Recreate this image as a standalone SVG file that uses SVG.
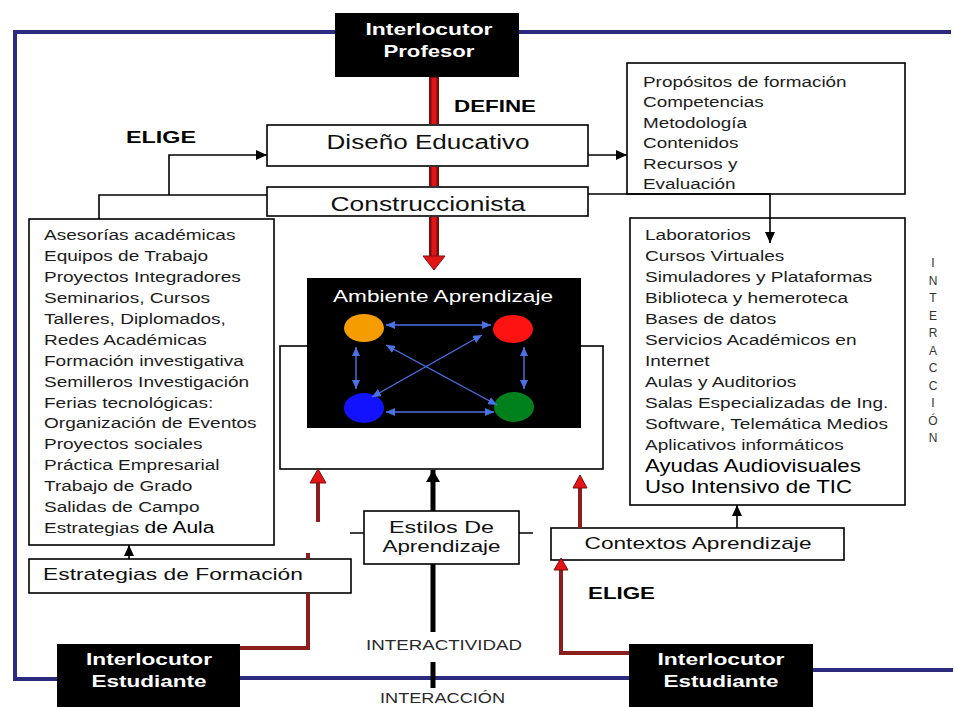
<svg xmlns="http://www.w3.org/2000/svg" width="955" height="707" viewBox="0 0 955 707">
<style>
text{font-family:"Liberation Sans",Arial,sans-serif}
.box{fill:#fff;stroke:#000;stroke-width:1.6}
.blk{fill:#000}
.wb{fill:#fff;font-weight:bold;font-size:17px;text-anchor:middle}
.lst{font-size:15px;fill:#1c1c1c}
.big{font-size:17.5px;fill:#000}
.ttl{font-size:20px;fill:#111;text-anchor:middle}
.mid{font-size:17px;fill:#111}
.lab{font-weight:bold;font-size:17px;fill:#000}
.cap{font-size:14px;fill:#2a2a2a}
.vt{font-size:12px;fill:#333;text-anchor:middle}
.frame{fill:none;stroke:#2b2b80;stroke-width:4}
.ln{fill:none;stroke:#000;stroke-width:1.6}
.thick{fill:none;stroke:#000;stroke-width:5}
.bl{fill:none;stroke:#4a72e6;stroke-width:1.4}
.mr{fill:none;stroke:#8b1f1f;stroke-width:4}
.rd{fill:none;stroke:#7a0e0e;stroke-width:10}
.rc{fill:none;stroke:#e01515;stroke-width:5}
.rh{fill:#e41515;stroke:#7a0e0e;stroke-width:1}
</style>
<defs>
<marker id="ab" markerUnits="userSpaceOnUse" markerWidth="11" markerHeight="10" refX="11" refY="5" orient="auto"><path d="M0,0 L11,5 L0,10 z" fill="#000"/></marker>
<marker id="abig" markerUnits="userSpaceOnUse" markerWidth="12" markerHeight="14" refX="12" refY="7" orient="auto"><path d="M0,0 L12,7 L0,14 z" fill="#000"/></marker>
<marker id="ba" markerUnits="userSpaceOnUse" markerWidth="9" markerHeight="8" refX="9" refY="4" orient="auto-start-reverse"><path d="M0,0 L9,4 L0,8 z" fill="#4a72e6"/></marker>
</defs>
<rect width="955" height="707" fill="#fff"/>

<g id="interlocutor-profesor">
<rect class="blk" x="335" y="13" width="184" height="64"/>
<text class="wb" x="429" y="35" textLength="127" lengthAdjust="spacingAndGlyphs">Interlocutor</text>
<text class="wb" x="429" y="57" textLength="91" lengthAdjust="spacingAndGlyphs">Profesor</text>
</g>

<g id="diseno-educativo">
<rect class="box" x="267" y="125" width="321" height="41"/>
<text class="ttl" x="428" y="149" textLength="203" lengthAdjust="spacingAndGlyphs">Diseño Educativo</text>
</g>

<g id="construccionista">
<rect class="box" x="267" y="187" width="321" height="29"/>
<text class="ttl" x="428" y="211" textLength="195" lengthAdjust="spacingAndGlyphs">Construccionista</text>
</g>

<g id="propositos">
<rect class="box" x="627" y="63" width="278" height="131"/>
<g transform="translate(643 0) scale(1.26 1)">
<text class="lst" x="0" y="87">Propósitos de formación</text>
<text class="lst" x="0" y="107.5">Competencias</text>
<text class="lst" x="0" y="128">Metodología</text>
<text class="lst" x="0" y="148.5">Contenidos</text>
<text class="lst" x="0" y="169">Recursos  y</text>
<text class="lst" x="0" y="189.5">Evaluación</text>
</g>
</g>

<g id="estrategias-lista">
<rect class="box" x="29" y="219" width="245" height="326"/>
<g transform="translate(44 0) scale(1.27 1)">
<text class="lst" x="0" y="240">Asesorías académicas</text>
<text class="lst" x="0" y="261">Equipos de Trabajo</text>
<text class="lst" x="0" y="282">Proyectos Integradores</text>
<text class="lst" x="0" y="303">Seminarios, Cursos</text>
<text class="lst" x="0" y="324">Talleres, Diplomados,</text>
<text class="lst" x="0" y="345">Redes Académicas</text>
<text class="lst" x="0" y="366">Formación investigativa</text>
<text class="lst" x="0" y="387">Semilleros Investigación</text>
<text class="lst" x="0" y="408">Ferias tecnológicas:</text>
<text class="lst" x="0" y="428.5">Organización de Eventos</text>
<text class="lst" x="0" y="449.5">Proyectos sociales</text>
<text class="lst" x="0" y="470.5">Práctica Empresarial</text>
<text class="lst" x="0" y="491.5">Trabajo de Grado</text>
<text class="lst" x="0" y="512">Salidas de Campo</text>
<text class="lst" x="0" y="533">Estrategias <tspan font-size="16.5" fill="#000">de Aula</tspan></text>
</g>
</g>

<g id="recursos-lista">
<rect class="box" x="630" y="218" width="275" height="287"/>
<g transform="translate(645 0) scale(1.27 1)">
<text class="lst" x="0" y="240">Laboratorios</text>
<text class="lst" x="0" y="261">Cursos Virtuales</text>
<text class="lst" x="0" y="282.5">Simuladores y Plataformas</text>
<text class="lst" x="0" y="303.5">Biblioteca y hemeroteca</text>
<text class="lst" x="0" y="324.5">Bases de datos</text>
<text class="lst" x="0" y="345.5">Servicios Académicos en</text>
<text class="lst" x="0" y="366.5">Internet</text>
<text class="lst" x="0" y="387">Aulas y Auditorios</text>
<text class="lst" x="0" y="408.5">Salas Especializadas de Ing.</text>
<text class="lst" x="0" y="429.5">Software, Telemática Medios</text>
<text class="lst" x="0" y="450">Aplicativos informáticos</text>
<text class="big" x="0" y="472">Ayudas Audiovisuales</text>
<text class="big" x="0" y="493">Uso Intensivo de TIC</text>
</g>
</g>

<g id="contenedor">
<rect class="box" x="280" y="346" width="323" height="123"/>
</g>

<g id="ambiente-aprendizaje">
<rect class="blk" x="307" y="278" width="274" height="150"/>
<text x="443" y="302" fill="#fff" font-size="17" text-anchor="middle" textLength="220" lengthAdjust="spacingAndGlyphs">Ambiente Aprendizaje</text>
<ellipse cx="364" cy="328" rx="20" ry="14" fill="#f59c00"/>
<ellipse cx="513" cy="329" rx="20" ry="14" fill="#ff1212"/>
<ellipse cx="364" cy="408" rx="20" ry="15" fill="#1212ff"/>
<ellipse cx="514" cy="407" rx="20" ry="15" fill="#00801c"/>
</g>

<g id="estilos-aprendizaje">
<rect class="box" x="364" y="511" width="155" height="53"/>
<text class="mid" x="441.5" y="533" text-anchor="middle" font-size="18" textLength="105" lengthAdjust="spacingAndGlyphs">Estilos De</text>
<text class="mid" x="441.5" y="552" text-anchor="middle" font-size="18" textLength="118" lengthAdjust="spacingAndGlyphs">Aprendizaje</text>
</g>

<g id="contextos-aprendizaje">
<rect class="box" x="551" y="528" width="293" height="32"/>
<text class="mid" x="698" y="549" text-anchor="middle" textLength="227" lengthAdjust="spacingAndGlyphs">Contextos Aprendizaje</text>
</g>

<g id="estrategias-formacion">
<rect class="box" x="29" y="559" width="322" height="34"/>
<text class="mid" x="43" y="580" font-size="16" textLength="260" lengthAdjust="spacingAndGlyphs">Estrategias de Formación</text>
</g>

<g id="interlocutor-estudiante-1">
<rect class="blk" x="57" y="644" width="183" height="63"/>
<text class="wb" x="149" y="665" textLength="126" lengthAdjust="spacingAndGlyphs">Interlocutor</text>
<text class="wb" x="149" y="687" textLength="115" lengthAdjust="spacingAndGlyphs">Estudiante</text>
</g>

<g id="interlocutor-estudiante-2">
<rect class="blk" x="629" y="644" width="184" height="63"/>
<text class="wb" x="721" y="665" textLength="127" lengthAdjust="spacingAndGlyphs">Interlocutor</text>
<text class="wb" x="721" y="687" textLength="115" lengthAdjust="spacingAndGlyphs">Estudiante</text>
</g>

<g id="connectors">
<path class="frame" d="M335,32 H15 V679 H57"/>
<path class="frame" d="M519,32 H951"/>
<path class="frame" d="M240,678 H629"/>
<path class="frame" d="M813,670 H953"/>

<path class="ln" d="M99,219 V195 H267"/>
<path class="ln" d="M169,195 V155 H267" marker-end="url(#ab)"/>
<path class="ln" d="M588,155 H627" marker-end="url(#ab)"/>
<path class="ln" d="M588,194 H770 V243" marker-end="url(#ab)"/>
<path class="ln" d="M129,559 V545" marker-end="url(#ab)"/>
<path class="ln" d="M737,528 V505" marker-end="url(#ab)"/>
<path class="ln" d="M350,533 H364 M519,533 H533"/>
<path class="thick" d="M433,511 V470" marker-end="url(#abig)"/>
<path class="thick" d="M433,564 V632 M433,662 V688"/>

<path class="rd" d="M434,77 V124 M434,167 V186 M434,217 V258"/>
<path class="rc" d="M434,78 V124 M434,167 V186 M434,217 V258"/>
<path class="rh" d="M423,256 H445 L434,270 z"/>

<path class="mr" d="M240,648 H308 V593 M308,559 V553"/>
<path class="mr" d="M318,522 V482"/>
<path class="rh" d="M310,483 H326 L318,469 z"/>
<path class="mr" d="M580,528 V487"/>
<path class="rh" d="M573,488 H587 L580,475 z"/>
<path class="mr" d="M629,653 H561 V569"/>
<path class="rh" d="M554,570 H568 L561,558 z"/>

<path class="bl" d="M386,325 H491" marker-start="url(#ba)" marker-end="url(#ba)"/>
<path class="bl" d="M386,412 H494" marker-start="url(#ba)" marker-end="url(#ba)"/>
<path class="bl" d="M356,347 V389" marker-start="url(#ba)" marker-end="url(#ba)"/>
<path class="bl" d="M524,347 V389" marker-start="url(#ba)" marker-end="url(#ba)"/>
<path class="bl" d="M386,345 L497,405" marker-start="url(#ba)" marker-end="url(#ba)"/>
<path class="bl" d="M482,335 L372,397" marker-start="url(#ba)" marker-end="url(#ba)"/>
</g>

<g id="labels">
<text class="lab" x="126" y="143" textLength="70" lengthAdjust="spacingAndGlyphs">ELIGE</text>
<text class="lab" x="454" y="112" font-size="18" textLength="82" lengthAdjust="spacingAndGlyphs">DEFINE</text>
<text class="lab" x="588" y="599" textLength="67" lengthAdjust="spacingAndGlyphs">ELIGE</text>
<text class="cap" x="366" y="650" textLength="156" lengthAdjust="spacingAndGlyphs">INTERACTIVIDAD</text>
<text class="cap" x="380" y="703" textLength="125" lengthAdjust="spacingAndGlyphs">INTERACCIÓN</text>
<text class="vt" x="933" y="267">I</text>
<text class="vt" x="933" y="284.5">N</text>
<text class="vt" x="933" y="302">T</text>
<text class="vt" x="933" y="319.5">E</text>
<text class="vt" x="933" y="337">R</text>
<text class="vt" x="933" y="354.5">A</text>
<text class="vt" x="933" y="372">C</text>
<text class="vt" x="933" y="389.5">C</text>
<text class="vt" x="933" y="407">I</text>
<text class="vt" x="933" y="424.5">Ó</text>
<text class="vt" x="933" y="442">N</text>
</g>
</svg>
